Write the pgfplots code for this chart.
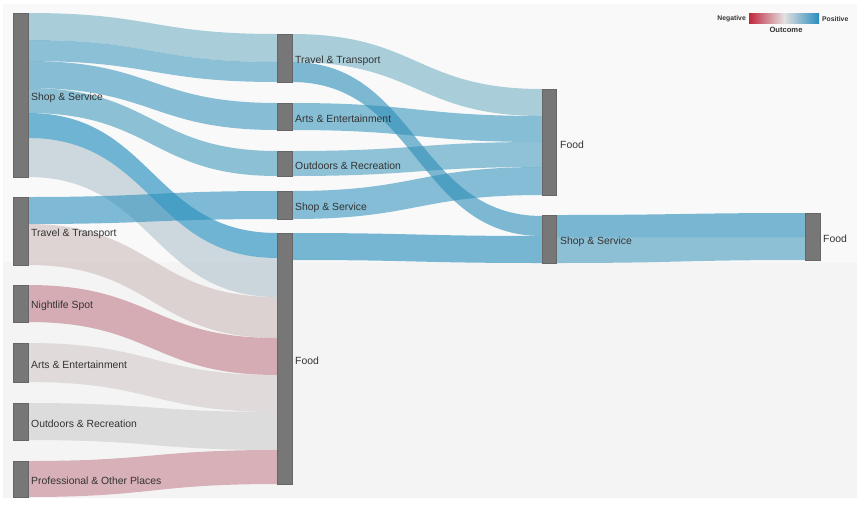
\documentclass[border=0pt]{standalone}
\usepackage{pgfplots}
\usepackage{pgfplotstable}
\pgfplotsset{compat=1.18}
\usepackage{fontspec}
\setmainfont{Liberation Sans}

% link base colours (drawn with fill opacity 0.6)
\definecolor{lc1}{RGB}{116,178,198}
\definecolor{lc2}{RGB}{68,155,191}
\definecolor{lc3}{RGB}{61,151,190}
\definecolor{lc4}{RGB}{68,155,190}
\definecolor{lc5}{RGB}{21,134,186}
\definecolor{lc6}{RGB}{176,195,205}
\definecolor{lc7}{RGB}{45,145,190}
\definecolor{lc8}{RGB}{205,188,188}
\definecolor{lc9}{RGB}{194,125,138}
\definecolor{lc10}{RGB}{211,201,201}
\definecolor{lc11}{RGB}{205,205,205}
\definecolor{lc12}{RGB}{198,131,143}
\definecolor{lc13}{RGB}{116,178,198}
\definecolor{lc14}{RGB}{43,141,184}
\definecolor{lc15}{RGB}{58,151,190}
\definecolor{lc16}{RGB}{73,158,191}
\definecolor{lc17}{RGB}{55,149,190}
\definecolor{lc18}{RGB}{31,138,186}
\definecolor{lc19}{RGB}{35,138,185}
\definecolor{lc20}{RGB}{71,155,190}
\definecolor{nodegray}{RGB}{119,119,119}
\definecolor{txt}{RGB}{51,51,51}
\definecolor{negc}{RGB}{192,40,62}
\definecolor{posc}{RGB}{43,140,190}
\definecolor{midc}{RGB}{226,224,224}

% links: source right edge x, source top/bottom y, target left edge x, target top/bottom y, colour index
\pgfplotstableread{
x0  y0t y0b x1  y1t y1b c
28  13  40  277 34  62  1
28  40  61  277 62  82  2
28  61  88  277 103 130 3
28  88  113 277 151 176 4
28  138 177 277 258 297 6
28  113 138 277 233 258 5
28  197 224 277 191 219 7
28  224 265 277 297 338 8
28  285 322 277 338 375 9
28  343 382 277 375 412 10
28  403 440 277 412 450 11
28  461 497 277 450 484 12
292 34  62  542 89  116 13
292 103 130 542 116 142 15
292 151 176 542 142 167 16
292 191 219 542 167 195 17
292 233 260 542 236 263 18
292 62  82  542 216 236 14
556 215 237 805 213 237 19
556 237 263 805 237 260 20
}\links

% nodes: left x, right x, top y, bottom y
\pgfplotstableread{
xa  xb  ya  yb
13  28  13  177
13  28  197 265
13  28  285 322
13  28  343 382
13  28  403 440
13  28  461 497
277 292 34  82
277 292 103 130
277 292 151 176
277 292 191 219
277 292 233 484
542 556 89  195
542 556 215 263
805 820 213 260
}\nodes

\begin{document}
\begin{tikzpicture}
\begin{axis}[
  width=859pt, height=507pt, scale only axis,
  xmin=0, xmax=859, ymin=0, ymax=507, y dir=reverse,
  hide axis, clip=false,
]
% background
\fill[white] (axis cs:0,0) rectangle (axis cs:859,507);
\fill[black!2.5] (axis cs:3,4) rectangle (axis cs:857,262);
\fill[black!4.5] (axis cs:3,262) rectangle (axis cs:857,498);

% links
\pgfplotsinvokeforeach{0,...,19}{
  \pgfplotstablegetelem{#1}{x0}\of\links \let\Xa\pgfplotsretval
  \pgfplotstablegetelem{#1}{y0t}\of\links \let\Yat\pgfplotsretval
  \pgfplotstablegetelem{#1}{y0b}\of\links \let\Yab\pgfplotsretval
  \pgfplotstablegetelem{#1}{x1}\of\links \let\Xb\pgfplotsretval
  \pgfplotstablegetelem{#1}{y1t}\of\links \let\Ybt\pgfplotsretval
  \pgfplotstablegetelem{#1}{y1b}\of\links \let\Ybb\pgfplotsretval
  \pgfplotstablegetelem{#1}{c}\of\links \let\Cc\pgfplotsretval
  \pgfmathsetmacro\Xm{(\Xa+\Xb)/2}
  \edef\doit{\noexpand\fill[fill=lc\Cc, fill opacity=0.6]
    (axis cs:\Xa,\Yat) .. controls (axis cs:\Xm,\Yat) and (axis cs:\Xm,\Ybt) .. (axis cs:\Xb,\Ybt)
    -- (axis cs:\Xb,\Ybb) .. controls (axis cs:\Xm,\Ybb) and (axis cs:\Xm,\Yab) .. (axis cs:\Xa,\Yab) -- cycle;}
  \doit
}

% nodes
\pgfplotsinvokeforeach{0,...,13}{
  \pgfplotstablegetelem{#1}{xa}\of\nodes \let\Na\pgfplotsretval
  \pgfplotstablegetelem{#1}{xb}\of\nodes \let\Nb\pgfplotsretval
  \pgfplotstablegetelem{#1}{ya}\of\nodes \let\Nc\pgfplotsretval
  \pgfplotstablegetelem{#1}{yb}\of\nodes \let\Nd\pgfplotsretval
  \edef\doit{\noexpand\fill[nodegray, draw=black!60, line width=0.4pt]
    (axis cs:\Na,\Nc) rectangle (axis cs:\Nb,\Nd);}
  \doit
}

% labels
\begin{scope}[every node/.style={anchor=west, text=txt, inner sep=0pt, font=\fontsize{10.4}{12}\selectfont}]
\node at (axis cs:31,97.5) {Shop \& Service};
\node at (axis cs:31,233.5) {Travel \& Transport};
\node at (axis cs:31,305.5) {Nightlife Spot};
\node at (axis cs:31,364.5) {Arts \& Entertainment};
\node at (axis cs:31,423.5) {Outdoors \& Recreation};
\node at (axis cs:31,480.5) {Professional \& Other Places};
\node at (axis cs:295,60.5) {Travel \& Transport};
\node at (axis cs:295,118.5) {Arts \& Entertainment};
\node at (axis cs:295,165.5) {Outdoors \& Recreation};
\node at (axis cs:295,207.5) {Shop \& Service};
\node at (axis cs:295,360.5) {Food};
\node at (axis cs:560,144.5) {Food};
\node at (axis cs:560,241.5) {Shop \& Service};
\node at (axis cs:823,238.5) {Food};
\end{scope}

% legend
\shade[left color=negc, right color=posc, middle color=midc] (axis cs:749,13) rectangle (axis cs:819,23);
\node[anchor=east, inner sep=0pt, font=\bfseries\fontsize{6.8}{7}\selectfont, text=txt] at (axis cs:746,19) {Negative};
\node[anchor=west, inner sep=0pt, font=\bfseries\fontsize{6.8}{7}\selectfont, text=txt] at (axis cs:822,19) {Positive};
\node[anchor=center, inner sep=0pt, font=\bfseries\fontsize{7.6}{8}\selectfont, text=txt] at (axis cs:786,30) {Outcome};
\end{axis}
\end{tikzpicture}
\end{document}
